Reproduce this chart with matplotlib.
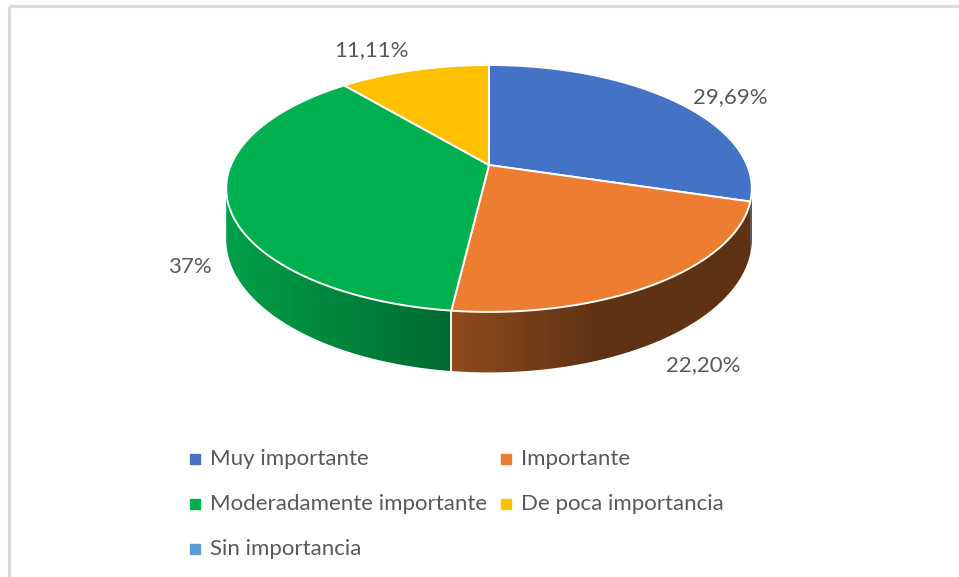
import numpy as np
import matplotlib
matplotlib.use("Agg")
import matplotlib.pyplot as plt
from matplotlib.patches import Polygon
from matplotlib.colors import to_rgb

# ---- data -------------------------------------------------------------
categories = ["Muy importante", "Importante", "Moderadamente importante",
              "De poca importancia", "Sin importancia"]
values = [29.69, 22.20, 37.0, 11.11, 0.0]
value_labels = ["29,69%", "22,20%", "37%", "11,11%", ""]
colors = ["#4472C4", "#ED7D31", "#00B050", "#FFC000", "#5B9BD5"]

# label nudges in pixels (dx, dy)
label_nudge = [(5, 5), (0, 0), (0, 10), (0, 5), (0, 0)]

# ---- figure in pixel coordinates ---------------------------------------
W, H = 959, 577
fig = plt.figure(figsize=(W / 100, H / 100), dpi=100)
ax = fig.add_axes([0, 0, 1, 1])

FONT = ["Lato", "DejaVu Sans"]
TXT = "#595959"

# chart-area frame (top and left edges visible)
ax.plot([9, W], [6, 6], color="#D9D9D9", lw=2.2, solid_capstyle="butt")
ax.plot([9, 9], [6, H], color="#D9D9D9", lw=2.2, solid_capstyle="butt")

# ---- 3-D pie projection --------------------------------------------------
cx, cy = 489, 165        # projected pie centre
A, B = 119, 258          # vertical / horizontal scale
k = 0.19                 # perspective strength
D = 49                   # thickness


def proj(t, z=0.0):
    x, y = np.cos(t), np.sin(t)
    w = 1 + k * y
    return cx + B * x / w, cy - A * y / w + z * D / w


def shade(px):
    # lighting across the side wall: bright on the left, dark to the right
    u = (px - cx) / B
    return np.interp(u, [-1.02, 0.43, 1.02], [0.91, 0.40, 0.40])


vals = np.array(values, dtype=float)
frac = vals / vals.sum()
bounds = np.deg2rad(90 - 360 * np.concatenate([[0], np.cumsum(frac)]))

# visible part of the wall lies between the two silhouette angles
vis_hi = -np.arcsin(k)
vis_lo = -np.pi + np.arcsin(k)

gx = np.linspace(cx - B * 1.05, cx + B * 1.05, 600)
for i, col in enumerate(colors):
    t0, t1 = bounds[i], bounds[i + 1]
    a, b = min(t0, vis_hi), max(t1, vis_lo)
    if a - b <= 1e-6:
        continue
    ts = np.linspace(a, b, 300)
    top = [proj(t) for t in ts]
    bot = [proj(t, 1) for t in ts[::-1]]
    wall = Polygon(top + bot, closed=True, facecolor="none", edgecolor="none")
    ax.add_patch(wall)
    grad = np.clip(np.array(to_rgb(col))[None, :] * shade(gx)[:, None], 0, 1)
    im = ax.imshow(grad[None, :, :], extent=(gx[0], gx[-1], cy + A * 2, cy - A),
                   aspect="auto", interpolation="bilinear", zorder=1)
    im.set_clip_path(wall)

# white seams where slice boundaries meet the visible wall
for t in bounds:
    if vis_lo < t < vis_hi and np.sin(t) < -0.3:
        x0, y0 = proj(t)
        x1, y1 = proj(t, 1)
        ax.plot([x0, x1], [y0, y1], color="white", lw=1.3, zorder=2)

# top faces
for i, col in enumerate(colors):
    t0, t1 = bounds[i], bounds[i + 1]
    if t0 - t1 <= 1e-9:
        continue
    ts = np.linspace(t0, t1, 200)
    pts = [(cx, cy)] + [proj(t) for t in ts]
    ax.add_patch(Polygon(pts, closed=True, facecolor=col, edgecolor="white",
                         lw=1.4, joinstyle="round", zorder=3))

# ---- value labels ---------------------------------------------------------
for i, lab in enumerate(value_labels):
    if not lab:
        continue
    tm = 0.5 * (bounds[i] + bounds[i + 1])
    s = np.sin(tm)
    ex, ey = proj(tm, 1 if s < 0 else 0)
    dx, dy = np.cos(tm), -s
    nrm = np.hypot(dx, dy)
    lx = ex + 16 * dx / nrm + label_nudge[i][0]
    ly = ey + 16 * dy / nrm + label_nudge[i][1]
    ha = "left" if dx > 0 else "right"
    if s > 0.7:
        va = "bottom"
    elif s < -0.7:
        va = "top"
    else:
        va = "center"
    ax.text(lx, ly, lab, ha=ha, va=va, fontsize=16, color=TXT, family=FONT,
            zorder=4)

# ---- legend (row-major, two columns) -------------------------------------
col_x = [195, 506]
row_y = [459, 504, 549]
for i, (name, col) in enumerate(zip(categories, colors)):
    r, c = divmod(i, 2)
    ax.plot(col_x[c], row_y[r], marker="s", ms=6.5, color=col, mec=col)
    ax.text(col_x[c] + 15, row_y[r], name, ha="left", va="center",
            fontsize=16, color=TXT, family=FONT)

ax.set_xlim(0, W)
ax.set_ylim(H, 0)
ax.axis("off")

fig.savefig("out.png", dpi=100, facecolor="white")
